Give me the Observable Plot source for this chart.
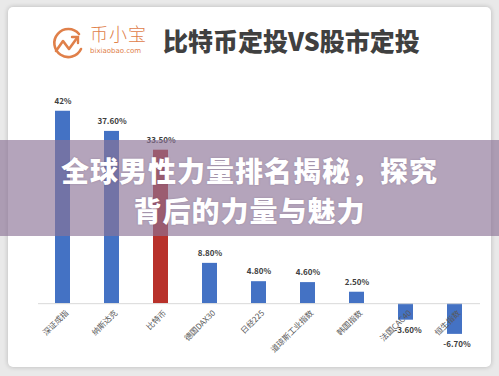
<!DOCTYPE html>
<html><head><meta charset="utf-8">
<script src="https://cdn.jsdelivr.net/npm/d3@7"></script>
<script src="https://cdn.jsdelivr.net/npm/@observablehq/plot@0.6"></script>
<style>
body{margin:0;background:#e9e9e9;}
#wrap{position:relative;width:499px;height:376px;background:#e9e9e9;overflow:hidden;font-family:"Noto Sans CJK SC","Noto Sans",sans-serif;}
#card{position:absolute;left:8px;top:7px;width:483px;height:360px;background:#fff;border-radius:5px;box-shadow:0 0 5px rgba(0,0,0,0.22);}
#logo{position:absolute;left:40px;top:18px;}
#brand{position:absolute;left:82px;top:16px;color:#e0804a;font-size:18px;line-height:20px;letter-spacing:1px;font-weight:300;}
#domain{position:absolute;left:82px;top:40px;color:#e0804a;font-size:7px;line-height:9px;font-family:"DejaVu Sans",sans-serif;}
#title{position:absolute;left:155px;top:18px;color:#404040;font-size:25px;line-height:30px;font-weight:900;white-space:nowrap;}
#chart{position:absolute;left:0;top:63px;}
#band{position:absolute;left:0;top:140px;width:499px;height:96px;background:rgba(140,115,150,0.65);}
#band div{position:absolute;left:0;width:499px;text-align:center;color:#fff;font-weight:900;font-size:28px;line-height:30px;height:30px;letter-spacing:1px;white-space:nowrap;text-shadow:0 0 2px rgba(80,60,90,0.3);}
</style></head>
<body>
<div id="wrap">
  <div id="card">
    <svg id="logo" width="40" height="40" viewBox="0 0 40 40">
      <path d="M31 9 A14 14 0 1 0 33 24" fill="none" stroke="#e0804a" stroke-width="2.6" stroke-linecap="round"/>
      <polyline points="8,26 15,16 21,24 29,13" fill="none" stroke="#e0804a" stroke-width="2.6" stroke-linejoin="round" stroke-linecap="round"/>
      <polyline points="24,12 30,12 30,18" fill="none" stroke="#e0804a" stroke-width="2.4" stroke-linecap="round"/>
    </svg>
    <div id="brand">币小宝</div>
    <div id="domain">bixiaobao.com</div>
    <div id="title">比特币定投VS股市定投</div>
    <div id="chart"></div>
  </div>
  <div id="band">
    <div style="top:15px">全球男性力量排名揭秘，探究</div>
    <div style="top:55px">背后的力量与魅力</div>
  </div>
</div>
<script>
const categories = ["深证成指","纳斯达克","比特币","德国DAX30","日经225","道琼斯工业指数","韩国指数","法国CAC40","恒生指数"];
const values = [42, 37.6, 33.5, 8.8, 4.8, 4.6, 2.5, -3.6, -6.7];
const valueLabels = ["42%","37.60%","33.50%","8.80%","4.80%","4.60%","2.50%","-3.60%","-6.70%"];
const highlight = "比特币";

const data = categories.map((c, i) => ({cat: c, value: values[i], label: valueLabels[i]}));

const plot = Plot.plot({
  width: 483,
  height: 297,
  marginLeft: 30,
  marginRight: 11,
  marginTop: 27,
  marginBottom: 18,
  style: {fontFamily: '"Noto Sans CJK SC","Noto Sans",sans-serif', background: "transparent", overflow: "visible"},
  x: {domain: categories, paddingInner: 0.69, paddingOuter: 0.345, axis: null},
  y: {domain: [-10, 45], axis: null},
  marks: [
    Plot.barY(data, {x: "cat", y: "value", fill: d => d.cat === highlight ? "#b8312a" : "#4472c4"}),
    Plot.ruleY([0], {stroke: "#d9d9d9", strokeWidth: 1}),
    Plot.text(data, {x: "cat", y: "value", text: "label", fontSize: 8, fontWeight: 600, fill: "#404040",
      filter: d => d.value >= 0, dy: -10}),
    Plot.text(data, {x: "cat", y: "value", text: "label", fontSize: 8, fontWeight: 600, fill: "#404040",
      filter: d => d.value < 0, dy: 10, dx: 2}),
    Plot.text(data, {x: "cat", y: () => 0, text: "cat", rotate: -45, textAnchor: "end", dx: 4, dy: 8, fontSize: 8, fill: "#595959"})
  ]
});
document.getElementById("chart").appendChild(plot);
</script>
</body></html>
